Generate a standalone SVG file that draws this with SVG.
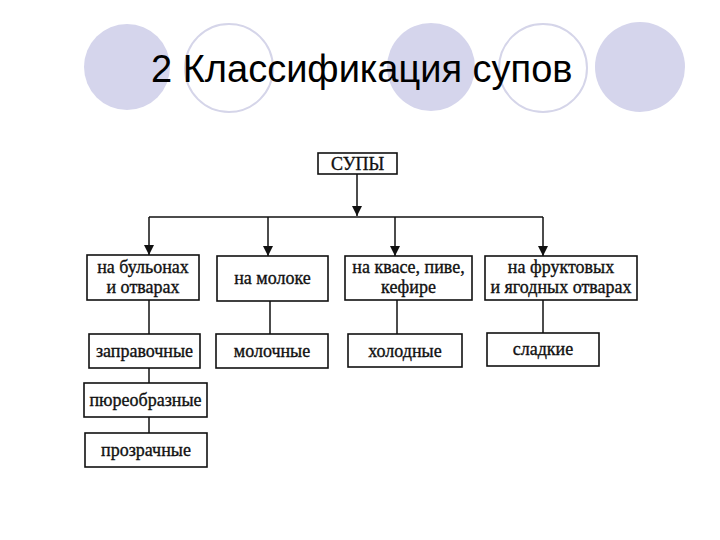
<svg xmlns="http://www.w3.org/2000/svg" width="720" height="540" viewBox="0 0 720 540">
<defs>
<style>
.bg{fill:#ffffff}
.cf{fill:#d5d5ec;stroke:none}
.co{fill:none;stroke:#d5d5e9;stroke-width:2}
.title{font-family:"Liberation Sans",Arial,sans-serif;font-size:38px;fill:#000}
.box{fill:#ffffff;stroke:#111;stroke-width:1.6}
.lbl{font-family:"Liberation Serif","Times New Roman",serif;font-size:18px;fill:#111;stroke:#111;stroke-width:0.35;text-anchor:middle}
.ln{fill:none;stroke:#111;stroke-width:1.5}
</style>
<marker id="ah" viewBox="0 0 10 10" refX="10" refY="5" markerWidth="10" markerHeight="10" markerUnits="userSpaceOnUse" orient="auto">
<path d="M0,0 L10,5 L0,10 z" fill="#111"/>
</marker>
</defs>
<rect class="bg" x="0" y="0" width="720" height="540"/>
<g id="decor">
<circle class="cf" cx="127" cy="67" r="43"/>
<circle class="co" cx="229" cy="68" r="44"/>
<circle class="cf" cx="431" cy="67" r="44"/>
<circle class="co" cx="543" cy="68" r="44"/>
<circle class="cf" cx="640" cy="67" r="45"/>
</g>
<text class="title" x="151" y="82">2 Классификация супов</text>
<g id="connectors">
<line class="ln" x1="357" y1="174" x2="357" y2="216" marker-end="url(#ah)"/>
<line class="ln" x1="149" y1="217" x2="543" y2="217"/>
<line class="ln" x1="149" y1="217" x2="149" y2="255" marker-end="url(#ah)"/>
<line class="ln" x1="268" y1="217" x2="268" y2="256" marker-end="url(#ah)"/>
<line class="ln" x1="395" y1="217" x2="395" y2="256" marker-end="url(#ah)"/>
<line class="ln" x1="543" y1="217" x2="543" y2="256" marker-end="url(#ah)"/>
<line class="ln" x1="149" y1="300" x2="149" y2="334"/>
<line class="ln" x1="270" y1="301" x2="270" y2="334"/>
<line class="ln" x1="397" y1="300" x2="397" y2="334"/>
<line class="ln" x1="543" y1="300" x2="543" y2="333"/>
<line class="ln" x1="149" y1="368" x2="149" y2="383"/>
<line class="ln" x1="149" y1="417" x2="149" y2="433"/>
</g>
<g id="n-supy">
<rect class="box" x="318" y="153" width="79" height="21"/>
<text class="lbl" x="357.5" y="170">СУПЫ</text>
</g>
<g id="n-bulon">
<rect class="box" x="87" y="255" width="112" height="45"/>
<text class="lbl" x="143" y="273">на бульонах</text>
<text class="lbl" x="143" y="293">и отварах</text>
</g>
<g id="n-moloko">
<rect class="box" x="217" y="256" width="111" height="45"/>
<text class="lbl" x="272.5" y="284">на молоке</text>
</g>
<g id="n-kvas">
<rect class="box" x="345" y="256" width="127" height="44"/>
<text class="lbl" x="408.5" y="273">на квасе, пиве,</text>
<text class="lbl" x="408.5" y="293">кефире</text>
</g>
<g id="n-frukt">
<rect class="box" x="485" y="256" width="152" height="44"/>
<text class="lbl" x="561" y="273">на фруктовых</text>
<text class="lbl" x="561" y="293">и ягодных отварах</text>
</g>
<g id="n-zaprav">
<rect class="box" x="89" y="334" width="111" height="34"/>
<text class="lbl" x="144.5" y="357">заправочные</text>
</g>
<g id="n-moloch">
<rect class="box" x="216" y="334" width="112" height="34"/>
<text class="lbl" x="272" y="357">молочные</text>
</g>
<g id="n-holod">
<rect class="box" x="348" y="334" width="114" height="33"/>
<text class="lbl" x="405" y="357">холодные</text>
</g>
<g id="n-sladk">
<rect class="box" x="487" y="333" width="112" height="33"/>
<text class="lbl" x="543" y="355">сладкие</text>
</g>
<g id="n-pyure">
<rect class="box" x="84" y="383" width="123" height="34"/>
<text class="lbl" x="145.5" y="406">пюреобразные</text>
</g>
<g id="n-prozr">
<rect class="box" x="85" y="433" width="122" height="34"/>
<text class="lbl" x="146" y="456">прозрачные</text>
</g>
</svg>
